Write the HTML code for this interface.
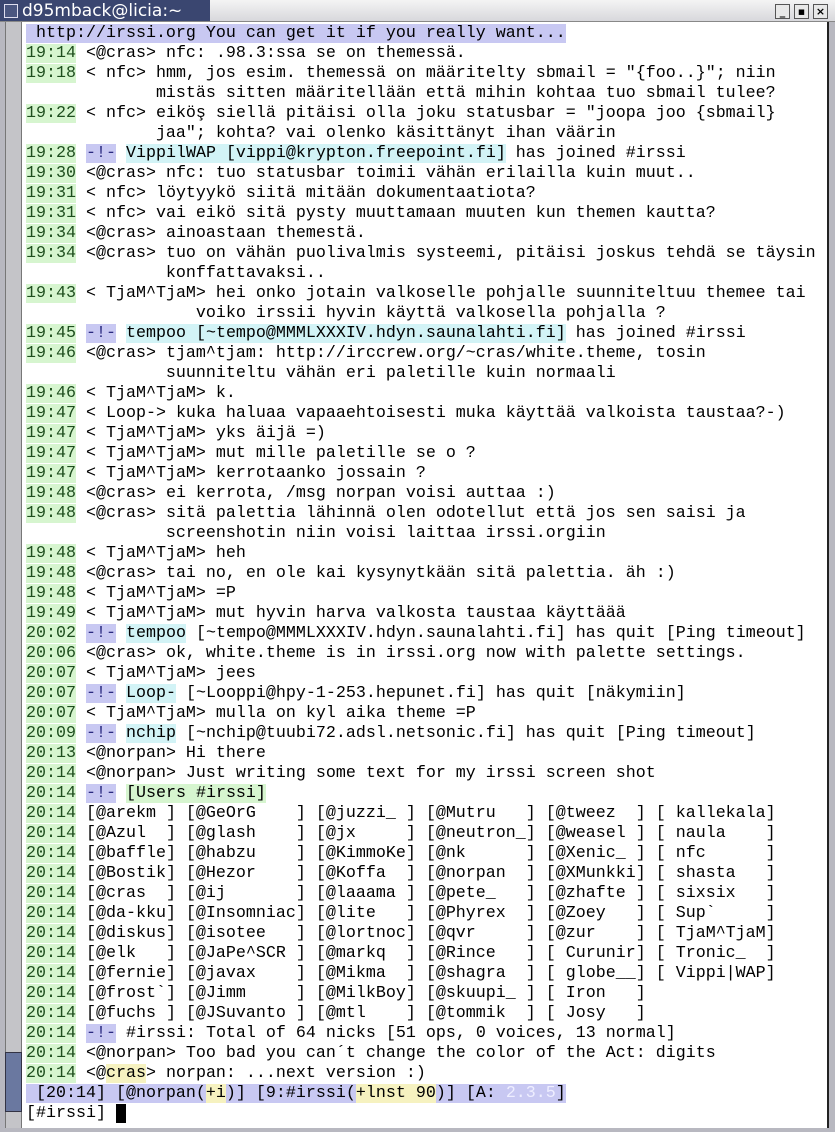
<!DOCTYPE html>
<html><head><meta charset="utf-8"><style>
html,body{margin:0;padding:0;width:835px;height:1132px;overflow:hidden;background:#b8b8c0;}
#title{position:absolute;left:0;top:0;width:835px;height:21px;background:linear-gradient(#f4f4f4,#d8d8dc);border-bottom:1px solid #888;}
#tl{position:absolute;left:0;top:0;width:210px;height:21px;background:#3a4670;}
#tl span{position:absolute;left:22px;top:1px;color:#fff;font:17px "DejaVu Sans","Liberation Sans",sans-serif;}
#tl i{position:absolute;left:4px;top:4px;width:12px;height:12px;border:1px solid #dde;background:#4a5680;}
.btn{position:absolute;top:4px;width:13px;height:13px;border:1px solid #555;background:#e8e8e8;font:bold 11px "DejaVu Sans",sans-serif;line-height:13px;text-align:center;color:#000;}
#sb{position:absolute;left:5px;top:22px;width:15px;height:1106px;background:#c4c4c8;border-left:1px solid #777;border-right:1px solid #777;}
#thumb{position:absolute;left:5px;top:1052px;width:15px;height:58px;background:#6a78a0;border:1px solid #334;}
#area{position:absolute;left:22px;top:22px;width:805px;height:1106px;background:#fff;border-right:2px solid #222;}
pre{position:absolute;left:26px;top:24px;margin:0;font:16.667px/20px "Liberation Mono","DejaVu Sans Mono",monospace;color:#000;}
.t{background:#d6f5cf;color:#1d4d1d}
.e{background:#c8c8f2;color:#2a2a80}
.n{background:#d2f3f6}
.g{background:#d6f5cf}
.y{background:#f6f2c0}
.s{background:#c8c8f2}
.w{color:#eef}
.c{background:#000}
</style></head><body>
<div id="title"><div id="tl"><i></i><span>d95mback@licia:~</span></div>
<div class="btn" style="left:775px">_</div><div class="btn" style="left:794px">▪</div><div class="btn" style="left:813px">×</div></div>
<div id="area"></div>
<div id="sb"></div><div id="thumb"></div>
<pre><span class="s"> http://irssi.org You can get it if you really want...</span>
<span class="t">19:14</span> &lt;@cras&gt; nfc: .98.3:ssa se on themessä.
<span class="t">19:18</span> &lt; nfc&gt; hmm, jos esim. themessä on määritelty sbmail = "{foo..}"; niin
             mistäs sitten määritellään että mihin kohtaa tuo sbmail tulee?
<span class="t">19:22</span> &lt; nfc&gt; eiköş siellä pitäisi olla joku statusbar = "joopa joo {sbmail}
             jaa"; kohta? vai olenko käsittänyt ihan väärin
<span class="t">19:28</span> <span class="e">-!-</span> <span class="n">VippilWAP [vippi@krypton.freepoint.fi]</span> has joined #irssi
<span class="t">19:30</span> &lt;@cras&gt; nfc: tuo statusbar toimii vähän erilailla kuin muut..
<span class="t">19:31</span> &lt; nfc&gt; löytyykö siitä mitään dokumentaatiota?
<span class="t">19:31</span> &lt; nfc&gt; vai eikö sitä pysty muuttamaan muuten kun themen kautta?
<span class="t">19:34</span> &lt;@cras&gt; ainoastaan themestä.
<span class="t">19:34</span> &lt;@cras&gt; tuo on vähän puolivalmis systeemi, pitäisi joskus tehdä se täysin
              konffattavaksi..
<span class="t">19:43</span> &lt; TjaM^TjaM&gt; hei onko jotain valkoselle pohjalle suunniteltuu themee tai
                 voiko irssii hyvin käyttä valkosella pohjalla ?
<span class="t">19:45</span> <span class="e">-!-</span> <span class="n">tempoo [~tempo@MMMLXXXIV.hdyn.saunalahti.fi]</span> has joined #irssi
<span class="t">19:46</span> &lt;@cras&gt; tjam^tjam: http://irccrew.org/~cras/white.theme, tosin
              suunniteltu vähän eri paletille kuin normaali
<span class="t">19:46</span> &lt; TjaM^TjaM&gt; k.
<span class="t">19:47</span> &lt; Loop-&gt; kuka haluaa vapaaehtoisesti muka käyttää valkoista taustaa?-)
<span class="t">19:47</span> &lt; TjaM^TjaM&gt; yks äijä =)
<span class="t">19:47</span> &lt; TjaM^TjaM&gt; mut mille paletille se o ?
<span class="t">19:47</span> &lt; TjaM^TjaM&gt; kerrotaanko jossain ?
<span class="t">19:48</span> &lt;@cras&gt; ei kerrota, /msg norpan voisi auttaa :)
<span class="t">19:48</span> &lt;@cras&gt; sitä palettia lähinnä olen odotellut että jos sen saisi ja
              screenshotin niin voisi laittaa irssi.orgiin
<span class="t">19:48</span> &lt; TjaM^TjaM&gt; heh
<span class="t">19:48</span> &lt;@cras&gt; tai no, en ole kai kysynytkään sitä palettia. äh :)
<span class="t">19:48</span> &lt; TjaM^TjaM&gt; =P
<span class="t">19:49</span> &lt; TjaM^TjaM&gt; mut hyvin harva valkosta taustaa käyttäää
<span class="t">20:02</span> <span class="e">-!-</span> <span class="n">tempoo</span> [~tempo@MMMLXXXIV.hdyn.saunalahti.fi] has quit [Ping timeout]
<span class="t">20:06</span> &lt;@cras&gt; ok, white.theme is in irssi.org now with palette settings.
<span class="t">20:07</span> &lt; TjaM^TjaM&gt; jees
<span class="t">20:07</span> <span class="e">-!-</span> <span class="n">Loop-</span> [~Looppi@hpy-1-253.hepunet.fi] has quit [näkymiin]
<span class="t">20:07</span> &lt; TjaM^TjaM&gt; mulla on kyl aika theme =P
<span class="t">20:09</span> <span class="e">-!-</span> <span class="n">nchip</span> [~nchip@tuubi72.adsl.netsonic.fi] has quit [Ping timeout]
<span class="t">20:13</span> &lt;@norpan&gt; Hi there
<span class="t">20:14</span> &lt;@norpan&gt; Just writing some text for my irssi screen shot
<span class="t">20:14</span> <span class="e">-!-</span> <span class="g">[Users #irssi]</span>
<span class="t">20:14</span> [@arekm ] [@GeOrG    ] [@juzzi_ ] [@Mutru   ] [@tweez  ] [ kallekala]
<span class="t">20:14</span> [@Azul  ] [@glash    ] [@jx     ] [@neutron_] [@weasel ] [ naula    ]
<span class="t">20:14</span> [@baffle] [@habzu    ] [@KimmoKe] [@nk      ] [@Xenic_ ] [ nfc      ]
<span class="t">20:14</span> [@Bostik] [@Hezor    ] [@Koffa  ] [@norpan  ] [@XMunkki] [ shasta   ]
<span class="t">20:14</span> [@cras  ] [@ij       ] [@laaama ] [@pete_   ] [@zhafte ] [ sixsix   ]
<span class="t">20:14</span> [@da-kku] [@Insomniac] [@lite   ] [@Phyrex  ] [@Zoey   ] [ Sup`     ]
<span class="t">20:14</span> [@diskus] [@isotee   ] [@lortnoc] [@qvr     ] [@zur    ] [ TjaM^TjaM]
<span class="t">20:14</span> [@elk   ] [@JaPe^SCR ] [@markq  ] [@Rince   ] [ Curunir] [ Tronic_  ]
<span class="t">20:14</span> [@fernie] [@javax    ] [@Mikma  ] [@shagra  ] [ globe__] [ Vippi|WAP]
<span class="t">20:14</span> [@frost`] [@Jimm     ] [@MilkBoy] [@skuupi_ ] [ Iron   ]
<span class="t">20:14</span> [@fuchs ] [@JSuvanto ] [@mtl    ] [@tommik  ] [ Josy   ]
<span class="t">20:14</span> <span class="e">-!-</span> #irssi: Total of 64 nicks [51 ops, 0 voices, 13 normal]
<span class="t">20:14</span> &lt;@norpan&gt; Too bad you can´t change the color of the Act: digits
<span class="t">20:14</span> &lt;@<span class="y">cras</span>&gt; norpan: ...next version :)
<span class="s"> [20:14] [@norpan(<span class="y">+i</span>)] [9:#irssi(<span class="y">+lnst 90</span>)] [A: <span class="w">2.3.5</span>]</span>
[#irssi] <span class="c"> </span></pre>
</body></html>
